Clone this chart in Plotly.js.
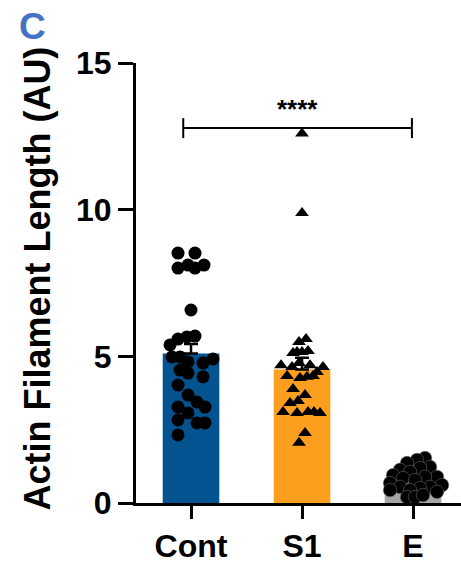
<!DOCTYPE html>
<html>
<head>
<meta charset="utf-8">
<script src="https://cdn.plot.ly/plotly-3.0.1.min.js"></script>
<style>
html,body{margin:0;padding:0;background:#fff;}
#chart{width:461px;height:565px;}
</style>
</head>
<body>
<div id="chart"></div>
<script>
// ---- data ----
var categories = ["Cont", "S1", "E"];
var barMeans = [5.1, 4.55, 0.75];
var barSEM = [0.32, 0.4, 0.08];
var barColors = ["#02538f", "#fd9f1e", "#a6a6a6"];

var contValues = [8.52, 8.52, 8.01, 8.11, 8.01, 8.11, 6.58, 5.69, 5.66, 5.59, 5.39, 4.98, 4.98, 4.81, 4.77, 4.91, 4.53, 4.43, 4.30, 4.02, 3.68, 3.44, 3.27, 3.27, 3.07, 2.83, 2.73, 2.73, 2.32];
var contJitter = [-0.117, 0.036, -0.117, -0.027, 0.036, 0.117, 0.0, 0.036, -0.036, -0.117, -0.189, -0.171, -0.099, -0.027, 0.108, 0.198, -0.099, -0.027, 0.108, -0.117, -0.027, 0.054, 0.126, -0.117, -0.027, -0.117, 0.054, 0.126, -0.117];

var s1Values = [12.6, 9.89, 5.49, 5.59, 5.15, 5.18, 5.15, 5.11, 4.70, 4.64, 4.77, 4.70, 4.47, 4.64, 4.33, 4.26, 4.30, 4.33, 3.89, 3.68, 3.41, 3.48, 3.10, 3.07, 3.10, 3.10, 3.07, 2.39, 2.05];
var s1Jitter = [0.0, 0.0, -0.027, 0.036, -0.045, 0.054, 0.0, -0.081, -0.189, -0.09, -0.027, 0.072, 0.135, 0.189, -0.135, -0.018, 0.045, 0.099, -0.081, 0.027, -0.108, -0.036, -0.171, -0.045, 0.054, 0.108, 0.162, 0.027, -0.027];

var eValues = [1.53, 1.47, 1.36, 1.23, 1.13, 1.19, 1.06, 0.95, 0.89, 0.89, 0.85, 0.78, 0.68, 0.61, 0.55, 0.55, 0.51, 0.44, 0.44, 0.38, 0.20, 0.20, 0.27];
var eJitter = [0.108, 0.036, -0.054, 0.153, -0.117, 0.063, -0.027, -0.18, 0.216, 0.108, -0.09, 0.018, -0.207, 0.261, 0.153, -0.117, 0.063, -0.027, -0.207, 0.216, -0.054, 0.018, 0.09];

var tickVals = [0, 5, 10, 15];
var yTitle = "Actin Filament Length (AU)";
var panelLabel = "C";
var sigLabel = "****";

// ---- build ----
function shift(jit, idx) { return jit.map(function (d) { return d + idx; }); }

var FONT = "Liberation Sans, Arial, sans-serif";

var traces = [
  {
    type: "bar",
    x: [0, 1, 2],
    y: barMeans,
    width: 0.51,
    marker: { color: barColors, line: { width: 0 } },
    error_y: { type: "data", symmetric: false, array: barSEM, arrayminus: [0, 0, 0], color: "#000", thickness: 2.5, width: 7 },
    hoverinfo: "skip"
  },
  {
    type: "scatter", mode: "markers",
    x: shift(contJitter, 0), y: contValues,
    marker: { symbol: "circle", size: 13, color: "#000", line: { width: 0 } },
    cliponaxis: false
  },
  {
    type: "scatter", mode: "markers",
    x: shift(s1Jitter, 1), y: s1Values,
    marker: { symbol: "triangle-up", size: 12, color: "#000", line: { width: 0 } },
    cliponaxis: false
  },
  {
    type: "scatter", mode: "markers",
    x: shift(eJitter, 2), y: eValues,
    marker: { symbol: "circle", size: 13.5, color: "#000", line: { width: 0.6, color: "#666666" } },
    cliponaxis: false
  }
];

var layout = {
  width: 461, height: 565,
  margin: { l: 136, r: 0, t: 63, b: 62, pad: 0 },
  paper_bgcolor: "#fff", plot_bgcolor: "#fff",
  showlegend: false,
  font: { family: FONT, color: "#000" },
  xaxis: {
    range: [-0.4955, 2.432],
    tickvals: [0, 1, 2], ticktext: categories,
    showline: true, linewidth: 3, linecolor: "#000",
    ticks: "outside", ticklen: 13, tickwidth: 3, tickcolor: "#000",
    showgrid: false, zeroline: false,
    tickfont: { family: FONT, size: 32, color: "#000", weight: "bold" }
  },
  yaxis: {
    range: [0, 15],
    tickvals: tickVals,
    showline: true, linewidth: 3, linecolor: "#000",
    ticks: "outside", ticklen: 15, tickwidth: 3, tickcolor: "#000",
    showgrid: false, zeroline: false,
    tickfont: { family: FONT, size: 32, color: "#000", weight: "bold" }
  },
  shapes: [
    { type: "line", xref: "x", yref: "y", x0: -0.07, x1: 1.99, y0: 12.78, y1: 12.78, line: { color: "#000", width: 2 } },
    { type: "line", xref: "x", yref: "y", x0: -0.07, x1: -0.07, y0: 12.44, y1: 13.12, line: { color: "#000", width: 2 } },
    { type: "line", xref: "x", yref: "y", x0: 1.99, x1: 1.99, y0: 12.44, y1: 13.12, line: { color: "#000", width: 2 } }
  ],
  annotations: [
    { text: "<b>" + yTitle + "</b>", xref: "paper", yref: "paper", x: -0.3015, y: 0.51, xanchor: "center", yanchor: "middle", textangle: -90, showarrow: false, font: { family: FONT, size: 36, color: "#000" } },
    { text: "<b>" + panelLabel + "</b>", xref: "paper", yref: "paper", x: -0.317, y: 1.084, xanchor: "center", yanchor: "middle", showarrow: false, font: { family: FONT, size: 37, color: "#4472c4" } },
    { text: "<b>" + sigLabel + "</b>", xref: "x", yref: "y", x: 0.955, y: 12.85, xanchor: "center", yanchor: "bottom", showarrow: false, font: { family: FONT, size: 26, color: "#000" } }
  ]
};

Plotly.newPlot("chart", traces, layout, { displayModeBar: false, staticPlot: true });
</script>
</body>
</html>
